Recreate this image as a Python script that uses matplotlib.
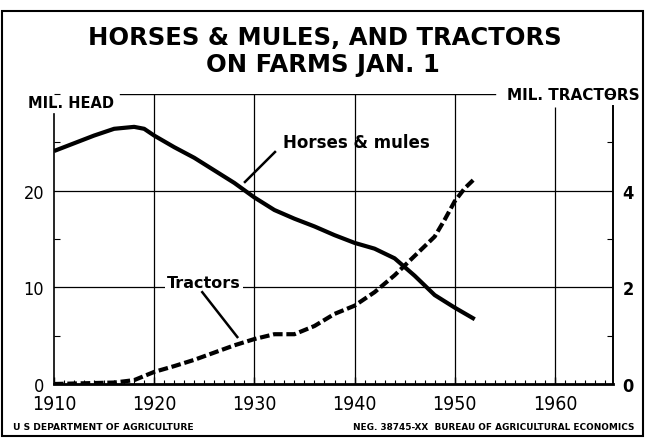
import matplotlib
matplotlib.use("Agg")
import matplotlib.pyplot as plt
from matplotlib.patches import Rectangle
from matplotlib.ticker import MultipleLocator

# Horses & mules on farms, million head
horse_years = [1910, 1912, 1914, 1916, 1918, 1919, 1920, 1922, 1924, 1926, 1928,
               1930, 1932, 1934, 1936, 1938, 1940, 1942, 1944, 1946, 1948, 1950, 1952]
horse_head = [24.1, 24.9, 25.7, 26.4, 26.6, 26.4, 25.7, 24.5, 23.4, 22.1, 20.8,
              19.3, 18.0, 17.1, 16.3, 15.4, 14.6, 14.0, 13.0, 11.2, 9.2, 7.9, 6.7]

# Tractors on farms, million
tractor_years = [1910, 1912, 1914, 1916, 1918, 1920, 1922, 1924, 1926, 1928, 1930,
                 1932, 1934, 1936, 1938, 1940, 1942, 1944, 1946, 1948, 1949, 1950, 1951, 1952]
tractor_count = [0.0, 0.01, 0.02, 0.03, 0.08, 0.25, 0.37, 0.50, 0.65, 0.80, 0.93,
                 1.03, 1.03, 1.20, 1.45, 1.62, 1.90, 2.25, 2.65, 3.05, 3.40, 3.78, 4.05, 4.25]

year_ticks = [1910, 1920, 1930, 1940, 1950, 1960]
head_ticks = [0, 10, 20]
tractor_ticks = [0, 2, 4]

W, H = 646, 439

fig = plt.figure(figsize=(W / 100, H / 100), dpi=100)
ax = fig.add_axes([54 / W, 1 - 385 / H, 559 / W, 290 / H])
ax2 = ax.twinx()

ax.set_xlim(1910, 1965.8)
ax.set_ylim(0, 30)
ax2.set_ylim(0, 6)

# grid, drawn by hand so the lines can stop where the chart's do
for y in [10, 20]:
    ax.axhline(y, color="black", lw=0.9, zorder=1)
ax.axhline(30, xmin=0.118, xmax=0.789, color="black", lw=1.0, zorder=1)
for yr in year_ticks[1:]:
    top = 28.7 if yr == 1960 else 30
    ax.vlines(yr, 0, top, color="black", lw=0.9, zorder=1)

ax.plot(horse_years, horse_head, color="black", lw=3.0, solid_capstyle="butt", zorder=3)
ax2.plot(tractor_years, tractor_count, color="black", lw=3.0,
         linestyle=(0, (2.3, 0.9)), dash_capstyle="butt", zorder=3)

# spines
for a in (ax, ax2):
    a.spines["top"].set_visible(False)
ax.spines["right"].set_visible(False)
ax2.spines["left"].set_visible(False)
ax2.spines["bottom"].set_visible(False)
ax.spines["left"].set_bounds(0, 27.9)
ax.spines["left"].set_linewidth(1.2)
ax.spines["bottom"].set_linewidth(2.0)
ax2.spines["right"].set_bounds(0, 5.75)
ax2.spines["right"].set_linewidth(1.4)

# ticks
ax.set_xticks(year_ticks)
ax.set_xticklabels([str(y) for y in year_ticks], fontsize=14, fontstretch="condensed")
ax.xaxis.set_minor_locator(MultipleLocator(1))
ax.tick_params(axis="x", which="major", direction="in", length=5, width=1.0, pad=7)
ax.tick_params(axis="x", which="minor", direction="in", length=3, width=0.8)

ax.set_yticks(head_ticks)
ax.set_yticklabels([str(v) for v in head_ticks], fontsize=13, fontstretch="condensed")
ax.yaxis.set_minor_locator(MultipleLocator(5))
ax.tick_params(axis="y", which="major", length=0, pad=7)
ax.tick_params(axis="y", which="minor", direction="in", length=4, width=0.8)

ax2.set_yticks(tractor_ticks)
ax2.set_yticklabels([str(v) for v in tractor_ticks], fontsize=13, fontweight="bold",
                    fontstretch="condensed")
ax2.yaxis.set_minor_locator(MultipleLocator(1))
ax2.tick_params(axis="y", which="major", length=0, pad=7)
ax2.tick_params(axis="y", which="minor", direction="in", length=4, width=0.8)

# series labels with leader lines
ax.text(1932.85, 25.0, "Horses & mules", fontsize=12, fontweight="bold",
        ha="left", va="center", zorder=4)
ax.plot([1932.06, 1929.06], [24.0, 20.9], color="black", lw=1.8, zorder=4)
ax.text(1921.3, 10.55, "Tractors", fontsize=11.5, fontweight="bold", ha="left", va="center",
        bbox=dict(facecolor="white", edgecolor="none", pad=1.5), zorder=4)
ax.plot([1924.8, 1928.3], [9.5, 4.86], color="black", lw=1.8, zorder=4)

# titles and axis captions
fig.text(325 / W, 1 - 38 / H, "HORSES & MULES, AND TRACTORS", fontsize=17.5,
         fontweight="bold", ha="center", va="center")
fig.text(323 / W, 1 - 65 / H, "ON FARMS JAN. 1", fontsize=17.5,
         fontweight="bold", ha="center", va="center")
fig.text(28 / W, 1 - 104 / H, "MIL. HEAD", fontsize=10.5, fontweight="bold",
         ha="left", va="center")
fig.text(640 / W, 1 - 96 / H, "MIL. TRACTORS", fontsize=11, fontweight="bold",
         ha="right", va="center")
fig.text(13 / W, 1 - 428 / H, "U S DEPARTMENT OF AGRICULTURE", fontsize=6.6,
         fontweight="bold", ha="left", va="center")
fig.text(634 / W, 1 - 428 / H, "NEG. 38745-XX  BUREAU OF AGRICULTURAL ECONOMICS",
         fontsize=6.4, fontweight="bold", ha="right", va="center")

fig.patches.append(Rectangle((2 / W, 2 / H), 641 / W, 425 / H, transform=fig.transFigure,
                             fill=False, edgecolor="black", lw=1.5))

fig.savefig("out.png", dpi=100)
